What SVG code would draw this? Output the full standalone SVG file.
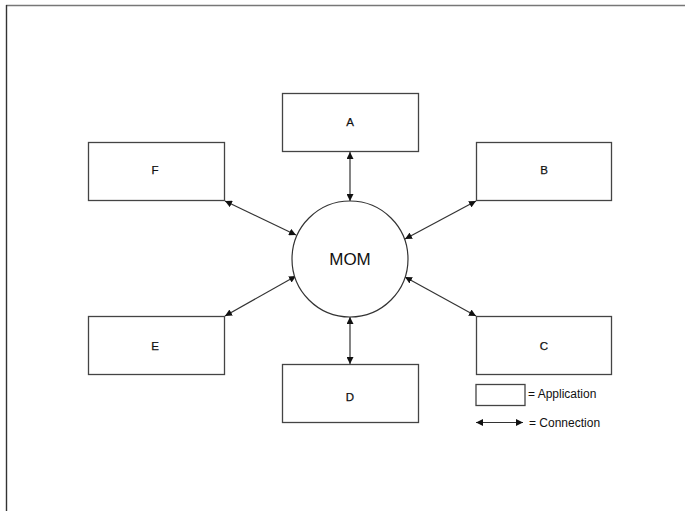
<svg xmlns="http://www.w3.org/2000/svg" width="685" height="511" viewBox="0 0 685 511">
  <style>
    .app rect { fill: #ffffff; stroke: #444444; stroke-width: 1.3; }
    .lbl { font-family: "Liberation Sans", Arial, sans-serif; font-size: 11.5px; fill: #111111; text-anchor: middle; stroke: #111111; stroke-width: 0.25; }
    .conn { stroke: #333333; stroke-width: 1.2; fill: none; marker-start: url(#head); marker-end: url(#head); }
    .legend-text { font-family: "Liberation Sans", Arial, sans-serif; font-size: 12px; fill: #111111; }
  </style>
  <defs>
    <marker id="head" viewBox="0 0 10 10" refX="10" refY="5" markerWidth="7" markerHeight="7" markerUnits="userSpaceOnUse" orient="auto-start-reverse">
      <path d="M0,0 L10,5 L0,10 Z" fill="#111111"/>
    </marker>
  </defs>

  <rect x="0" y="0" width="685" height="511" fill="#ffffff"/>

  <!-- page frame: top and left edges -->
  <g id="frame">
    <line x1="6" y1="5.5" x2="685" y2="5.5" stroke="#777777" stroke-width="1.6"/>
    <line x1="6.5" y1="5" x2="6.5" y2="511" stroke="#333333" stroke-width="1.4"/>
  </g>

  <!-- connections between applications and the MOM -->
  <g id="connectors">
    <line class="conn" x1="350" y1="152" x2="350" y2="201"/>
    <line class="conn" x1="350" y1="317" x2="350" y2="364"/>
    <line class="conn" x1="225" y1="201" x2="296" y2="235"/>
    <line class="conn" x1="476" y1="201" x2="405" y2="239"/>
    <line class="conn" x1="225" y1="316" x2="296" y2="276"/>
    <line class="conn" x1="476" y1="316" x2="405" y2="277"/>
  </g>

  <g id="mom">
    <circle cx="350" cy="259" r="58" fill="#ffffff" stroke="#333333" stroke-width="1.2"/>
    <text x="350" y="265" font-family="'Liberation Sans', Arial, sans-serif" font-size="17" fill="#111111" text-anchor="middle">MOM</text>
  </g>

  <g id="app-a" class="app">
    <rect x="282.5" y="93.5" width="136" height="58"/>
    <text class="lbl" x="350" y="125.5">A</text>
  </g>
  <g id="app-b" class="app">
    <rect x="476.5" y="142.5" width="135" height="58"/>
    <text class="lbl" x="544" y="174">B</text>
  </g>
  <g id="app-c" class="app">
    <rect x="476.5" y="316.5" width="135" height="58"/>
    <text class="lbl" x="544" y="350">C</text>
  </g>
  <g id="app-d" class="app">
    <rect x="282.5" y="364.5" width="136" height="58"/>
    <text class="lbl" x="350" y="401">D</text>
  </g>
  <g id="app-e" class="app">
    <rect x="88.5" y="316.5" width="136" height="58"/>
    <text class="lbl" x="155" y="350">E</text>
  </g>
  <g id="app-f" class="app">
    <rect x="88.5" y="142.5" width="136" height="58"/>
    <text class="lbl" x="155" y="174">F</text>
  </g>

  <!-- legend -->
  <g id="legend">
    <g class="app">
      <rect x="476" y="384.5" width="49" height="21"/>
    </g>
    <text class="legend-text" x="528" y="398">= Application</text>
    <line class="conn" x1="476" y1="422.5" x2="523" y2="422.5"/>
    <text class="legend-text" x="529" y="426.5">= Connection</text>
  </g>
</svg>
